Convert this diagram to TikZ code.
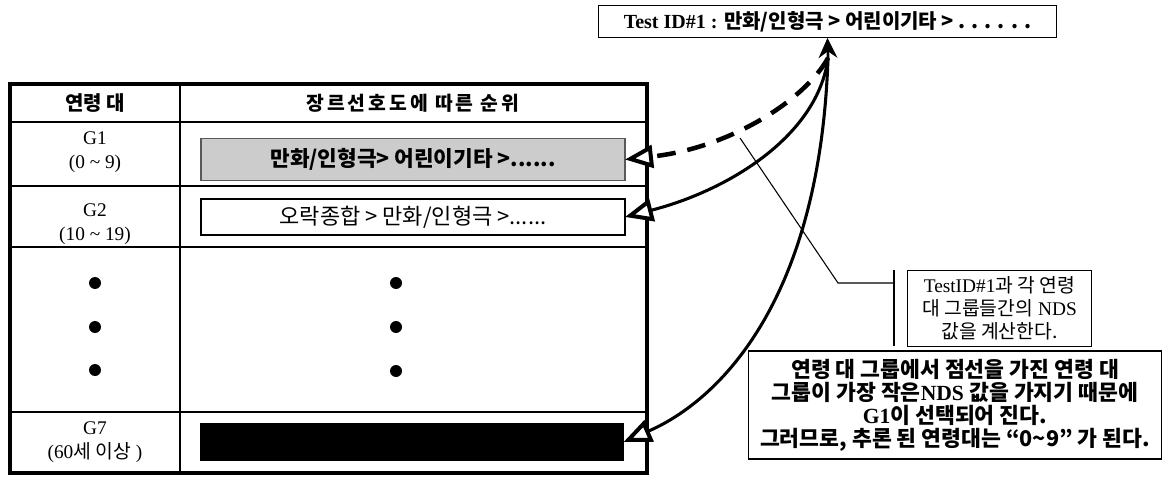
\documentclass[tikz,border=0pt]{standalone}
\usepackage{fontspec}
\setmainfont{Liberation Serif}
\newfontfamily\kr{Noto Sans CJK KR}
\newfontfamily\krsp[LetterSpace=15]{Noto Sans CJK KR}
\usetikzlibrary{arrows.meta}
\begin{document}
\begin{tikzpicture}[x=0.75pt,y=-0.75pt,
  frame/.style={line width=2.4pt},
  grid/.style={line width=0.9pt},
  lbl/.style={align=center,inner sep=0pt,font=\fontsize{14.5}{18.5}\selectfont},
  bar/.style={inner sep=0pt,outer sep=0pt,minimum width=318pt},
  note/.style={draw,line width=0.8pt,inner sep=0pt,outer sep=0pt,align=center},
  tipopen/.tip={Triangle[length=21pt,width=17pt,fill=white,line width=3pt]},
  arc/.style={line width=2.3pt,-tipopen},
  dot/.style={circle,fill=black,inner sep=0pt,minimum size=9pt}]
\useasboundingbox (0,0) rectangle (1166,477);

% table
\draw[frame] (10,84) rectangle (647,473);
\draw[grid] (180,84) -- (180,473);
\foreach \yy in {122,186,247,412} \draw[grid] (10,\yy) -- (647,\yy);

\node[lbl] (hA) at (95,103) {\kr\bfseries\fontsize{15}{18}\selectfont 연령 대};
\node[lbl] (hB) at (413,103) {\krsp\bfseries\fontsize{14.5}{18}\selectfont 장르선호도에 따른 순위};

\node[lbl] (g1) at (95,152) {G1\\(0 \textasciitilde{} 9)};
\node[lbl] (g2) at (95,224) {G2\\(10 \textasciitilde{} 19)};
\node[lbl] (g7) at (95,442) {G7\\(60{\kr\fontsize{14.5}{18}\selectfont 세 이상} )};

\node[dot] (d1) at (95,283) {};
\node[dot] (d2) at (95,327) {};
\node[dot] (d3) at (95,370) {};
\node[dot] (e1) at (396,283) {};
\node[dot] (e2) at (396,327) {};
\node[dot] (e3) at (396,371) {};

\node[bar,draw=gray!70!black,line width=0.8pt,fill=gray!40,minimum height=32pt] (b1) at (413,159.5)
  {\kr\bfseries\fontsize{16}{18}\selectfont 만화/인형극> 어린이기타 >......};
\node[bar,draw,line width=0.9pt,minimum height=27pt] (b2) at (413,217)
  {\kr\fontsize{16.5}{18}\selectfont 오락종합 > 만화/인형극 >......};
\node[bar,fill=black,minimum height=28.5pt] (b7) at (411.5,442) {};

% top box
\node[note,minimum width=344pt,minimum height=24.5pt] (top) at (827.5,21.5)
  {\bfseries\fontsize{15}{17}\selectfont Test ID\#1 : {\kr 만화/인형극 > 어린이기타 > . . . . . .}};

% NDS box
\node[note,minimum width=138pt,minimum height=57.5pt,font=\fontsize{14.5}{17.2}\selectfont] (nds) at (999.5,308.5)
  {TestID\#1{\kr 과 각 연령}\\{\kr 대 그룹들간의} NDS\\{\kr 값을 계산한다.}};

% conclusion box
\node[note,minimum width=310pt,minimum height=81pt,font=\bfseries\fontsize{16.2}{17.2}\selectfont] (res) at (955,405)
  {{\kr 연령 대 그룹에서 점선을 가진 연령 대}\\
   {\kr 그룹이 가장 작은}NDS {\kr 값을 가지기 때문에}\\
   G1{\kr 이 선택되어 진다.}\\
   {\kr 그러므로, 추론 된 연령대는 “0\textasciitilde9” 가 된다.}};

% arrows
\coordinate (hub) at (828,58);
\draw[line width=2pt,-{Stealth[length=15pt,width=14pt]}] (hub) -- (top.south);
\draw[arc,line width=3.4pt,dash pattern=on 14pt off 9pt] (hub) .. controls (805,100) and (730,148) .. (b1.east);
\draw[arc] (hub) .. controls (818,135) and (730,190) .. (b2.east);
\draw[arc] (hub) .. controls (820,300) and (720,400) .. (b7.east);

% callout
\coordinate (cA) at (740,138);
\coordinate (cB) at (838,283);
\coordinate (cC) at (894,283);
\draw[line width=0.8pt] (cA) -- (cB) -- (cC);
\draw[line width=0.8pt] (894,270) -- (894,346);
\end{tikzpicture}
\end{document}
